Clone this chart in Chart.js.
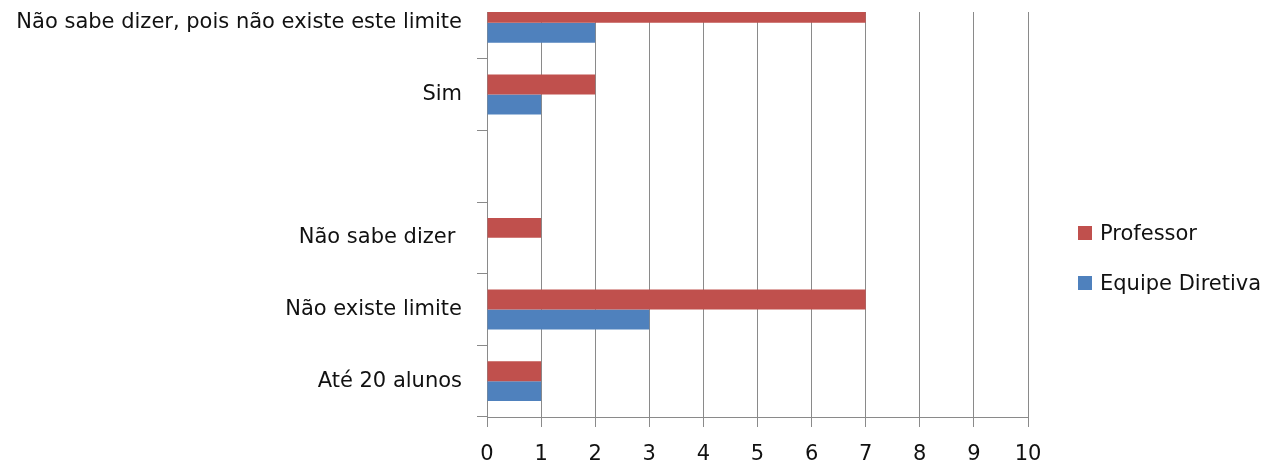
<!DOCTYPE html>
<html>
<head>
<meta charset="utf-8">
<script src="https://cdn.jsdelivr.net/npm/chart.js@4.4.1/dist/chart.umd.min.js"></script>
<style>
  html, body { margin: 0; padding: 0; background: #fff; overflow: hidden; }
  #wrap { position: relative; width: 1275px; height: 464px; overflow: hidden; }
  #grafico { position: absolute; left: 0; top: -25px; }
  #legenda { position: absolute; left: 1078px; top: 220px; font: 21px "DejaVu Sans", sans-serif; color: #111; }
  .item { display: flex; align-items: center; height: 26px; margin-bottom: 24px; }
  .cx { width: 14px; height: 14px; margin-right: 8px; }
</style>
</head>
<body>
<div id="wrap">
  <canvas id="grafico" width="1275" height="489"></canvas>
  <div id="legenda"></div>
</div>
<script>
// categorias de cima para baixo
const categorias = [
  "Não sabe dizer, pois não existe este limite",
  "Sim",
  "",
  "Não sabe dizer ",
  "Não existe limite",
  "Até 20 alunos"
];
const professor = [7, 2, null, 1, 7, 1];
const equipeDiretiva = [2, 1, null, null, 3, 1];
const ticksEixoX = [0, 1, 2, 3, 4, 5, 6, 7, 8, 9, 10];

const corGrade = "#8a8a8a";

// esconde a faixa do topo da área do gráfico (primeira categoria fica cortada)
const recorteTopo = {
  id: "recorteTopo",
  afterDraw(chart) {
    const { ctx, chartArea } = chart;
    ctx.save();
    ctx.fillStyle = "#fff";
    ctx.fillRect(chartArea.left - 12, 0, chartArea.right - chartArea.left + 14, 37);
    ctx.restore();
  }
};

Chart.defaults.font.family = "'DejaVu Sans', sans-serif";
Chart.defaults.font.size = 21;
Chart.defaults.color = "#111";

const grafico = new Chart(document.getElementById("grafico"), {
  type: "bar",
  data: {
    labels: categorias,
    datasets: [
      { label: "Professor", data: professor, backgroundColor: "#C0504D" },
      { label: "Equipe Diretiva", data: equipeDiretiva, backgroundColor: "#4F81BD" }
    ]
  },
  options: {
    indexAxis: "y",
    responsive: false,
    animation: false,
    categoryPercentage: 0.556,
    barPercentage: 1,
    layout: { padding: { top: 12, right: 247, left: 0, bottom: 0 } },
    plugins: { legend: { display: false }, tooltip: { enabled: false } },
    scales: {
      x: {
        min: ticksEixoX[0],
        max: ticksEixoX[ticksEixoX.length - 1],
        afterBuildTicks: s => { s.ticks = ticksEixoX.map(v => ({ value: v })); },
        grid: { color: corGrade, tickLength: 10 },
        border: { color: corGrade },
        ticks: { padding: 15, maxRotation: 0 },
        afterFit: s => { s.height = 47; }
      },
      y: {
        grid: { offset: true, drawOnChartArea: false, tickLength: 10, color: corGrade },
        border: { color: corGrade },
        ticks: { padding: 15, autoSkip: false },
        afterFit: s => { s.width = 487; s.paddingTop = 0; s.paddingBottom = 0; }
      }
    }
  },
  plugins: [recorteTopo]
});

// legenda ao lado
const legenda = document.getElementById("legenda");
grafico.data.datasets.forEach(ds => {
  const item = document.createElement("div");
  item.className = "item";
  item.innerHTML = `<span class="cx" style="background:${ds.backgroundColor}"></span><span>${ds.label}</span>`;
  legenda.appendChild(item);
});
</script>
</body>
</html>
